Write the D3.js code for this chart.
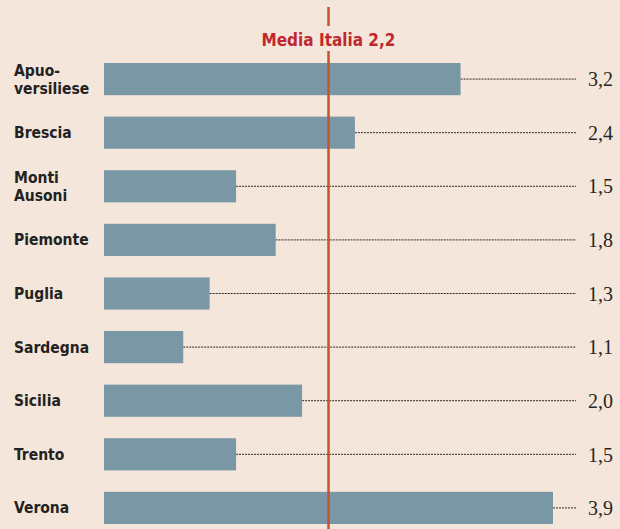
<!DOCTYPE html>
<html>
<head>
<meta charset="utf-8">
<script src="https://cdn.jsdelivr.net/npm/d3@7"></script>
<style>
  body { margin: 0; background: #f4e6da; }
  svg { display: block; }
</style>
</head>
<body>
<div id="chart"></div>
<script>
// Data
var categories = ["Apuo-\nversiliese", "Brescia", "Monti\nAusoni", "Piemonte", "Puglia",
                  "Sardegna", "Sicilia", "Trento", "Verona"];
var values = [3.2, 2.4, 1.5, 1.8, 1.3, 1.1, 2.0, 1.5, 3.9];
var valueLabels = ["3,2", "2,4", "1,5", "1,8", "1,3", "1,1", "2,0", "1,5", "3,9"];
var average = 2.2;
var averageLabel = "Media Italia 2,2";

// Layout
var width = 620, height = 529;
var barLeft = 104, barMaxRight = 553;
var leaderEnd = 576;
var labelFont = "'DejaVu Sans Condensed', 'DejaVu Sans', sans-serif";

var svg = d3.select("#chart").append("svg")
    .attr("width", width)
    .attr("height", height);

svg.append("rect")
    .attr("width", width)
    .attr("height", height)
    .attr("fill", "#f4e6da");

// bars start at 0.5 in the original, the axis is truncated
var x = d3.scaleLinear()
    .domain([0.5, 3.9])
    .range([barLeft, barMaxRight]);

var y = d3.scaleBand()
    .domain(categories)
    .range([63, 524])
    .paddingInner(0.4)
    .paddingOuter(0);

var rows = svg.append("g")
    .selectAll("g")
    .data(categories)
    .join("g");

// leader lines
rows.append("line")
    .attr("x1", function(d, i) { return x(values[i]); })
    .attr("x2", leaderEnd)
    .attr("y1", function(d) { return y(d) + y.bandwidth() / 2; })
    .attr("y2", function(d) { return y(d) + y.bandwidth() / 2; })
    .attr("stroke", "#2a2a2a")
    .attr("stroke-width", 1)
    .attr("stroke-dasharray", "2,1");

// bars
rows.append("rect")
    .attr("x", barLeft)
    .attr("y", function(d) { return y(d); })
    .attr("width", function(d, i) { return x(values[i]) - barLeft; })
    .attr("height", y.bandwidth())
    .attr("fill", "#7a97a6");

// value labels
rows.append("text")
    .attr("x", 613)
    .attr("y", function(d) { return y(d) + y.bandwidth() / 2; })
    .attr("dy", "0.36em")
    .attr("text-anchor", "end")
    .attr("font-family", "'Liberation Serif', 'DejaVu Serif', serif")
    .attr("font-size", 20)
    .attr("fill", "#262626")
    .text(function(d, i) { return valueLabels[i]; });

// category labels, one text per line
rows.each(function(d) {
    var lines = d.split("\n");
    var cy = y(d) + y.bandwidth() / 2;
    var lh = 18;
    var top = cy - (lines.length - 1) * lh / 2;
    d3.select(this).selectAll("text.cat")
        .data(lines)
        .join("text")
        .attr("class", "cat")
        .attr("x", 14)
        .attr("y", function(l, j) { return top + j * lh; })
        .attr("dy", "0.36em")
        .attr("font-family", labelFont)
        .attr("font-stretch", "condensed")
        .attr("font-weight", "bold")
        .attr("font-size", 15.5)
        .attr("fill", "#222")
        .text(function(l) { return l; });
});

// average line with label gap
var ax = x(average);
svg.append("line")
    .attr("x1", ax).attr("x2", ax)
    .attr("y1", 7).attr("y2", 26)
    .attr("stroke", "#c2552f")
    .attr("stroke-width", 2.5);

svg.append("line")
    .attr("x1", ax).attr("x2", ax)
    .attr("y1", 51).attr("y2", height)
    .attr("stroke", "#c2552f")
    .attr("stroke-width", 2.5);

svg.append("text")
    .attr("x", ax)
    .attr("y", 46)
    .attr("text-anchor", "middle")
    .attr("font-family", labelFont)
    .attr("font-stretch", "condensed")
    .attr("font-weight", "bold")
    .attr("font-size", 17)
    .attr("fill", "#c0282f")
    .text(averageLabel);
</script>
</body>
</html>
